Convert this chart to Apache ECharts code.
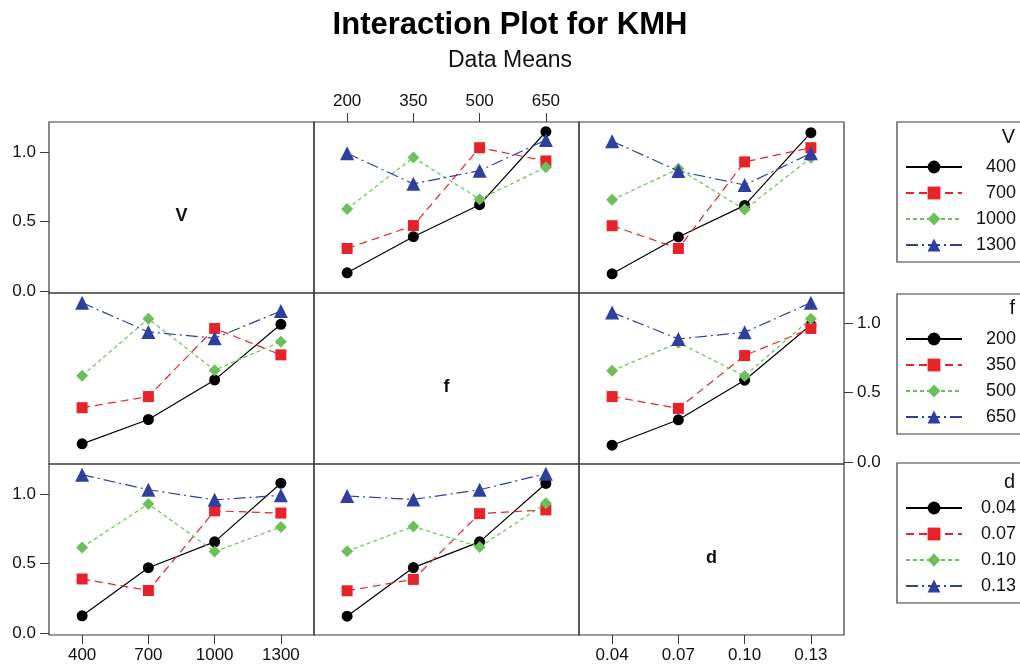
<!DOCTYPE html>
<html>
<head>
<meta charset="utf-8">
<title>Interaction Plot for KMH</title>
<script src="https://cdn.jsdelivr.net/npm/echarts@6/dist/echarts.min.js"></script>
<style>
  html, body { margin: 0; padding: 0; background: #fff; }
  #chart { width: 1020px; height: 665px; }
</style>
</head>
<body>
<div id="chart"></div>
<script>
// factor levels
var vLevels = ['400', '700', '1000', '1300'];
var fLevels = ['200', '350', '500', '650'];
var dLevels = ['0.04', '0.07', '0.10', '0.13'];
var yTicks = [0, 0.5, 1.0];

// means of KMH, one row per level of the series factor, columns follow the x factor
var vOverF = [
  [0.13, 0.39, 0.62, 1.145],
  [0.305, 0.47, 1.03, 0.935],
  [0.59, 0.96, 0.66, 0.89],
  [0.99, 0.77, 0.865, 1.085]
];
var vOverD = [
  [0.123, 0.388, 0.615, 1.138],
  [0.469, 0.305, 0.928, 1.03],
  [0.655, 0.878, 0.585, 0.957],
  [1.077, 0.862, 0.762, 0.99]
];
var fOverV = [
  [0.13, 0.305, 0.59, 0.99],
  [0.39, 0.47, 0.96, 0.77],
  [0.62, 1.03, 0.66, 0.865],
  [1.145, 0.935, 0.89, 1.085]
];
var fOverD = [
  [0.12, 0.303, 0.588, 0.985],
  [0.47, 0.385, 0.765, 0.96],
  [0.655, 0.858, 0.618, 1.03],
  [1.075, 0.885, 0.932, 1.145]
];
var dOverV = [
  [0.123, 0.469, 0.655, 1.077],
  [0.388, 0.305, 0.878, 0.862],
  [0.615, 0.928, 0.585, 0.762],
  [1.138, 1.03, 0.957, 0.99]
];
var dOverF = [
  [0.12, 0.47, 0.655, 1.075],
  [0.303, 0.385, 0.858, 0.885],
  [0.588, 0.765, 0.618, 0.932],
  [0.985, 0.96, 1.03, 1.145]
];

var FONT = 'Liberation Sans';
var styles = [
  { color: '#000000', type: 'solid', symbol: 'circle', size: 11 },
  { color: '#e8222a', type: [8, 5], symbol: 'rect', size: 11 },
  { color: '#6cc05a', type: [4, 3], symbol: 'diamond', size: 12 },
  { color: '#2f3f9f', type: [12, 4, 2, 4], symbol: 'triangle', size: 14 }
];

var colLeft = [49, 314, 579];
var rowTop = [122, 293, 464];
var W = 265, H = 171;

// each cell of the matrix
var panels = [
  { r: 0, c: 0, x: vLevels, yPos: 'left' },
  { r: 0, c: 1, x: fLevels, xPos: 'top', names: vLevels, data: vOverF },
  { r: 0, c: 2, x: dLevels, names: vLevels, data: vOverD },
  { r: 1, c: 0, x: vLevels, names: fLevels, data: fOverV },
  { r: 1, c: 1, x: fLevels },
  { r: 1, c: 2, x: dLevels, yPos: 'right', names: fLevels, data: fOverD },
  { r: 2, c: 0, x: vLevels, xPos: 'bottom', yPos: 'left', names: dLevels, data: dOverV },
  { r: 2, c: 1, x: fLevels, names: dLevels, data: dOverF },
  { r: 2, c: 2, x: dLevels, xPos: 'bottom' }
];

var grids = [], xAxes = [], yAxes = [], series = [];
panels.forEach(function (p, i) {
  grids.push({
    left: colLeft[p.c], top: rowTop[p.r], width: W, height: H,
    show: true, borderColor: '#3a3a3a', borderWidth: 1.2, backgroundColor: 'transparent'
  });
  xAxes.push({
    gridIndex: i, type: 'category', data: p.x, boundaryGap: true,
    position: p.xPos || 'bottom',
    axisLine: { show: false, onZero: false },
    axisTick: { show: !!p.xPos, alignWithLabel: true, length: 9, lineStyle: { color: '#3a3a3a' } },
    axisLabel: { show: !!p.xPos, margin: 12, fontSize: 17, fontFamily: FONT, color: '#111' },
    splitLine: { show: false }
  });
  yAxes.push({
    gridIndex: i, type: 'value', min: -0.015, max: 1.215,
    position: p.yPos || 'left',
    axisLine: { show: false, onZero: false },
    axisTick: { show: !!p.yPos, length: 9, customValues: yTicks, lineStyle: { color: '#3a3a3a' } },
    axisLabel: {
      show: !!p.yPos, customValues: yTicks, margin: 13, fontSize: 17, fontFamily: FONT, color: '#111',
      formatter: function (v) { return v.toFixed(1); }
    },
    splitLine: { show: false }
  });
  if (!p.data) return;
  p.data.forEach(function (row, k) {
    var s = styles[k];
    series.push({
      name: p.names[k], type: 'line', xAxisIndex: i, yAxisIndex: i,
      data: row, symbol: s.symbol, symbolSize: s.size,
      itemStyle: { color: s.color },
      lineStyle: { color: s.color, width: 1.2, type: s.type },
      emphasis: { disabled: true }, animation: false, z: 2 + k
    });
  });
});

var legendTops = [122, 294, 463];
var legends = [vLevels, fLevels, dLevels].map(function (lv, i) {
  return {
    data: lv, orient: 'vertical', left: 897, top: legendTops[i],
    padding: [36, 24, 8, 8], itemWidth: 56, itemHeight: 16, itemGap: 8,
    borderColor: '#3a3a3a', borderWidth: 1.2, selectedMode: false,
    formatter: '{a|{name}}',
    textStyle: { rich: { a: { width: 49, align: 'right', fontSize: 18, fontFamily: FONT, color: '#111' } } }
  };
});

function label(text, x, y, opts) {
  return {
    type: 'text', x: x, y: y, z: 10,
    style: {
      text: text, fill: '#111', fontFamily: FONT,
      fontSize: opts.size, fontWeight: opts.weight || 'normal',
      align: opts.align || 'center', verticalAlign: 'middle'
    }
  };
}

var chart = echarts.init(document.getElementById('chart'), null, { renderer: 'canvas' });
chart.setOption({
  animation: false,
  backgroundColor: '#fff',
  title: [
    { text: 'Interaction Plot for KMH', left: 'center', top: 5,
      textStyle: { fontSize: 31, fontWeight: 'bold', fontFamily: FONT, color: '#000' } },
    { text: 'Data Means', left: 'center', top: 44,
      textStyle: { fontSize: 23, fontWeight: 'normal', fontFamily: FONT, color: '#111' } }
  ],
  grid: grids,
  xAxis: xAxes,
  yAxis: yAxes,
  legend: legends,
  series: series,
  graphic: [
    label('V', 181.5, 216, { size: 18, weight: 'bold' }),
    label('f', 446.5, 387, { size: 18, weight: 'bold' }),
    label('d', 711.5, 558, { size: 18, weight: 'bold' }),
    label('V', 1015, 137, { size: 20, align: 'right' }),
    label('f', 1015, 308, { size: 20, align: 'right' }),
    label('d', 1015, 482, { size: 20, align: 'right' })
  ]
});
</script>
</body>
</html>
